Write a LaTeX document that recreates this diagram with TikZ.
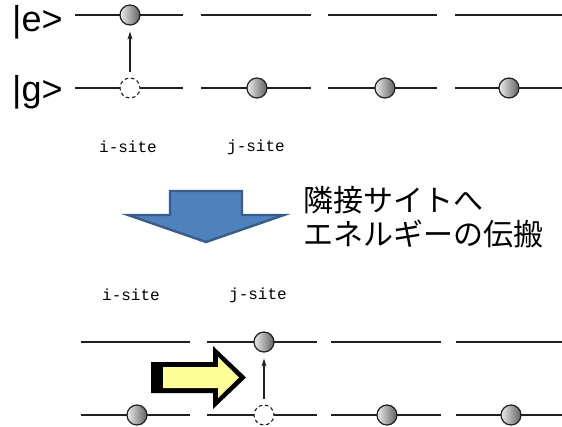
\documentclass[tikz,border=0pt]{standalone}
\usepackage{fontspec}
\setmainfont{Liberation Sans}
\newfontfamily\cjk{Noto Sans CJK JP}
\newfontfamily\monofont{Liberation Mono}
\usetikzlibrary{arrows.meta}
\definecolor{levelgray}{HTML}{231F20}
\definecolor{blockblue}{HTML}{4F81BD}
\definecolor{blockedge}{HTML}{385D8A}
\definecolor{paleyellow}{HTML}{FFFF99}
\tikzset{
  level/.style={draw=levelgray, line width=1.8pt},
  ball/.style={circle, minimum size=20pt, inner sep=0pt, draw=levelgray, line width=1.2pt,
    left color=gray!15, right color=gray!75!black},
  hole/.style={circle, minimum size=20pt, inner sep=0pt, draw=levelgray, fill=white,
    line width=1.1pt, dash pattern=on 3.6pt off 2.7pt, dash phase=1.5pt},
  excite/.style={draw=levelgray, line width=1.2pt, -{Stealth[length=8pt,width=5pt]},
    shorten <=5pt, shorten >=6pt},
  ket/.style={anchor=base west, inner sep=0pt, font=\fontsize{36}{40}\selectfont},
  sitelabel/.style={inner sep=0pt, font=\monofont\fontsize{16}{18}\selectfont},
  jtext/.style={anchor=base west, inner sep=0pt, font=\cjk\fontsize{30}{33}\selectfont},
}
\begin{document}
\begin{tikzpicture}[x=1pt, y=-1pt]
\useasboundingbox (0,0) rectangle (562,426);

% ---- upper panel: excitation at site i ----
\node[ket] (ke) at (12,31) {|e>};
\node[ket] (kg) at (12,101) {|g>};
\foreach \a/\b in {75/183, 201/311, 328/437, 455/562} {
  \draw[level] (\a,15) -- (\b,15);
  \draw[level] (\a,88) -- (\b,88);
}
\node[ball] (ue) at (130,15) {};
\node[hole] (uh) at (130,88) {};
\node[ball] (ug2) at (257,88) {};
\node[ball] (ug3) at (385,88) {};
\node[ball] (ug4) at (509,88) {};
\draw[excite] (uh.north) -- (ue.south);
\node[sitelabel] (ui) at (128,147) {i-site};
\node[sitelabel] (uj) at (256,147) {j-site};

% ---- transfer arrow and caption ----
\filldraw[fill=blockblue, draw=blockedge, line width=2.4pt, line join=miter]
  (170,191) -- (242,191) -- (242,215) -- (284,215) -- (206,242) -- (128,215) -- (170,215) -- cycle;
\node[jtext] (t1) at (303,211) {隣接サイトへ};
\node[jtext] (t2) at (303,245) {エネルギーの伝搬};

% ---- lower panel: excitation moved to site j ----
\node[sitelabel] (li) at (131,295) {i-site};
\node[sitelabel] (lj) at (258,295) {j-site};
\foreach \a/\b in {81/190, 207/317, 331/441, 456/562} {
  \draw[level] (\a,342) -- (\b,342);
  \draw[level] (\a,415) -- (\b,415);
}
% block arrow with dark offset edge
\fill[black] (151,362) -- (213,362) -- (213,346) -- (246,377.5) -- (213,409) -- (213,393) -- (151,393) -- cycle;
\fill[paleyellow] (163,367) -- (218,367) -- (218,357) -- (239,377.5) -- (218,398) -- (218,388) -- (163,388) -- cycle;

\node[ball] (lg1) at (137,415) {};
\node[ball] (le) at (264,342) {};
\node[hole] (lh) at (264,415) {};
\node[ball] (lg3) at (387,415) {};
\node[ball] (lg4) at (511,415) {};
\draw[excite] (lh.north) -- (le.south);
\end{tikzpicture}
\end{document}
